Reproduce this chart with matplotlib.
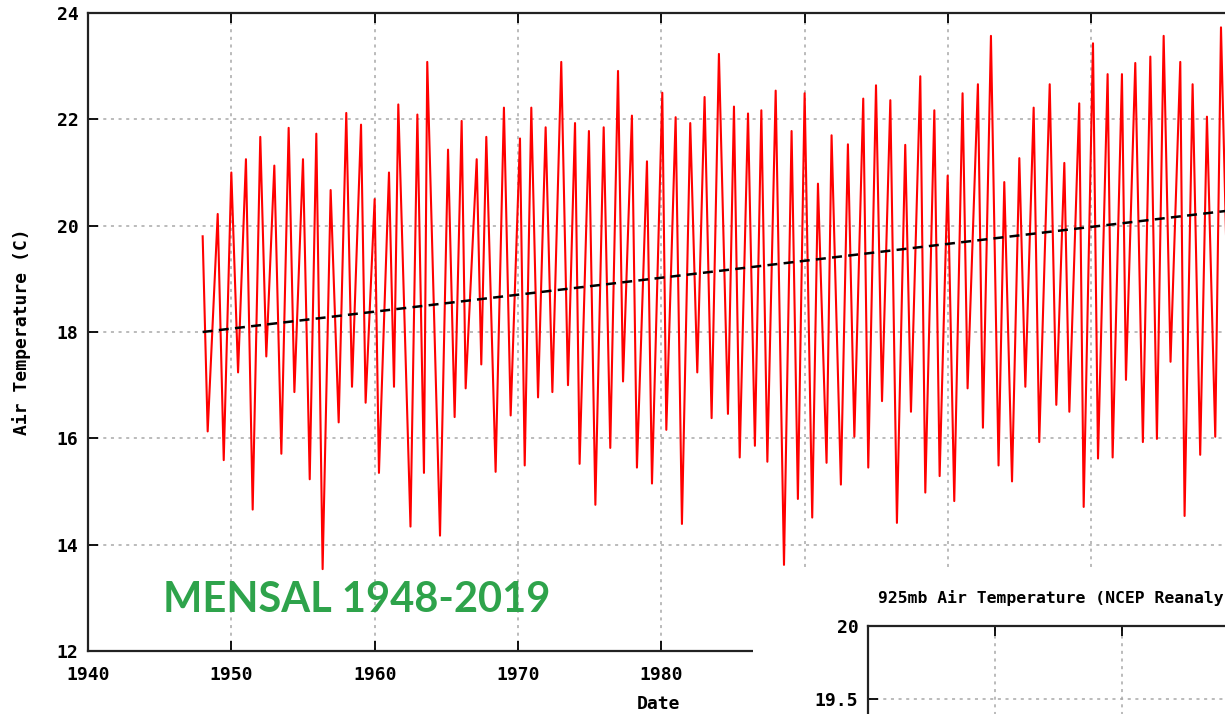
import matplotlib
matplotlib.use("Agg")
import matplotlib.pyplot as plt
from matplotlib.patches import Rectangle

# turning points of the monthly series (peaks and troughs)
turn_years = [
    1948.00, 1948.35, 1949.05, 1949.47, 1950.00, 1950.47, 1951.02, 1951.49,
    1952.02, 1952.44, 1953.00, 1953.49, 1954.00, 1954.40, 1955.00, 1955.47,
    1955.93, 1956.37, 1956.93, 1957.49, 1958.02, 1958.42, 1959.05, 1959.37,
    1960.00, 1960.30, 1961.00, 1961.35, 1961.65, 1962.50, 1962.98, 1963.44,
    1963.67, 1964.56, 1965.12, 1965.58, 1966.07, 1966.35, 1967.12, 1967.44,
    1967.79, 1968.44, 1969.02, 1969.49, 1970.14, 1970.47, 1970.93, 1971.40,
    1971.93, 1972.40, 1973.02, 1973.49, 1973.98, 1974.30, 1974.95, 1975.40,
    1975.98, 1976.44, 1976.98, 1977.33, 1977.95, 1978.30, 1979.00, 1979.35,
    1980.07, 1980.35, 1981.00, 1981.44, 1982.02, 1982.51, 1983.02, 1983.51,
    1984.02, 1984.65, 1985.07, 1985.47, 1986.05, 1986.53, 1986.98, 1987.40,
    1987.98, 1988.56, 1989.09, 1989.53, 1990.00, 1990.53, 1990.93, 1991.53,
    1991.88, 1992.53, 1993.02, 1993.47, 1994.09, 1994.44, 1994.98, 1995.40,
    1995.98, 1996.44, 1997.02, 1997.42, 1998.07, 1998.42, 1999.05, 1999.42,
    1999.98, 2000.44, 2001.02, 2001.37, 2002.09, 2002.44, 2003.00, 2003.53,
    2003.93, 2004.47, 2004.98, 2005.40, 2005.98, 2006.37, 2007.10, 2007.56,
    2008.12, 2008.47, 2009.16, 2009.47, 2010.12, 2010.47, 2011.14, 2011.49,
    2012.14, 2012.42, 2013.07, 2013.60, 2014.12, 2014.58, 2015.05, 2015.53,
    2016.21, 2016.51, 2017.07, 2017.60, 2018.07, 2018.65, 2019.05, 2019.47,
]
turn_temps = [
    19.80, 16.13, 20.22, 15.59, 21.00, 17.24, 21.25, 14.66,
    21.67, 17.54, 21.13, 15.71, 21.84, 16.87, 21.25, 15.23,
    21.73, 13.54, 20.67, 16.30, 22.12, 16.97, 21.90, 16.67,
    20.50, 15.35, 21.00, 16.97, 22.28, 14.34, 22.09, 15.35,
    23.08, 14.17, 21.43, 16.40, 21.97, 16.94, 21.25, 17.39,
    21.67, 15.37, 22.22, 16.43, 21.64, 15.49, 22.22, 16.77,
    21.85, 16.87, 23.08, 17.00, 21.93, 15.52, 21.78, 14.75,
    21.85, 15.82, 22.91, 17.07, 22.07, 15.45, 21.21, 15.15,
    22.50, 16.16, 22.04, 14.39, 21.93, 17.24, 22.42, 16.38,
    23.23, 16.46, 22.24, 15.64, 22.11, 15.86, 22.17, 15.56,
    22.54, 13.62, 21.78, 14.86, 22.49, 14.51, 20.79, 15.54,
    21.70, 15.13, 21.53, 16.03, 22.39, 15.45, 22.64, 16.70,
    22.36, 14.41, 21.52, 16.50, 22.81, 14.98, 22.17, 15.29,
    20.94, 14.82, 22.49, 16.94, 22.66, 16.20, 23.57, 15.49,
    20.82, 15.19, 21.27, 16.97, 22.22, 15.93, 22.66, 16.63,
    21.18, 16.50, 22.30, 14.71, 23.43, 15.62, 22.85, 15.64,
    22.85, 17.10, 23.06, 15.93, 23.18, 15.99, 23.57, 17.44,
    23.08, 14.54, 22.66, 15.69, 22.05, 16.03, 23.73, 19.06,
]

# linear trend (end points as drawn)
trend_years = [1948.0, 2019.5]
trend_temps = [18.0, 20.28]

x_ticks = [1940, 1950, 1960, 1970, 1980, 1990, 2000, 2010]
y_ticks = [12, 14, 16, 18, 20, 22, 24]

W, H = 1225, 714
mono = 'DejaVu Sans Mono'


def box(x0, y0, x1, y1):
    return [x0 / W, 1 - y1 / H, (x1 - x0) / W, (y1 - y0) / H]


fig = plt.figure(figsize=(W / 100, H / 100), dpi=100)

ax = fig.add_axes(box(88, 13, 1234.6, 651))
ax.plot(turn_years, turn_temps, color='#ff0000', lw=1.5, zorder=3)
ax.plot(trend_years, trend_temps, color='black', lw=1.8,
        linestyle=(0, (4, 2.5)), zorder=4)
ax.set_xlim(1940, 2020)
ax.set_ylim(12, 24)
ax.set_xticks(x_ticks)
ax.set_xticklabels([str(v) if v < 1990 else '' for v in x_ticks])
ax.set_yticks(y_ticks)
ax.grid(True, color='#a8a8a8', linestyle=(0, (2, 3)), lw=1.1)
ax.tick_params(direction='in', length=7, width=1.3, top=True,
               labelsize=13, pad=7, colors='black')
ax.tick_params(axis='x', pad=11)
for lab in ax.get_xticklabels() + ax.get_yticklabels():
    lab.set_family(mono)
    lab.set_weight('bold')
for s in ax.spines.values():
    s.set_linewidth(1.6)
    s.set_color('#222222')

fig.text(22 / W, 1 - 332 / H, 'Air Temperature (C)', rotation=90,
         ha='center', va='center', family=mono, weight='bold', fontsize=13)
fig.text(658 / W, 1 - 704 / H, 'Date', ha='center', va='center',
         family=mono, weight='bold', fontsize=13)
fig.text(163 / W, 1 - 612 / H, 'MENSAL 1948-2019', ha='left', va='baseline',
         family='Lato', weight='bold', fontsize=30, color='#2ea34b', zorder=6)

# white panel covering the lower right corner
fig.add_artist(Rectangle((753 / W, 0), (W - 753) / W, (H - 570) / H,
                         transform=fig.transFigure, facecolor='white',
                         edgecolor='none', zorder=5))

# second chart peeking in at the corner
ax2 = fig.add_axes(box(868, 626, 1249, 772), zorder=7)
ax2.set_xlim(0, 3)
ax2.set_ylim(19, 20)
ax2.set_xticks([1, 2])
ax2.set_xticklabels([])
ax2.set_yticks([19.5, 20])
ax2.set_yticklabels(['19.5', '20'])
ax2.grid(True, color='#a8a8a8', linestyle=(0, (2, 3)), lw=1.1)
ax2.tick_params(direction='in', length=7, width=1.3, top=True,
                labelsize=13, pad=7)
for lab in ax2.get_yticklabels():
    lab.set_family(mono)
    lab.set_weight('bold')
for s in ax2.spines.values():
    s.set_linewidth(1.6)
    s.set_color('#222222')
fig.text(878 / W, 1 - 598 / H, '925mb Air Temperature (NCEP Reanaly',
         ha='left', va='center', family=mono, weight='bold', fontsize=11.8,
         zorder=8)

fig.savefig('out.png', dpi=100)
